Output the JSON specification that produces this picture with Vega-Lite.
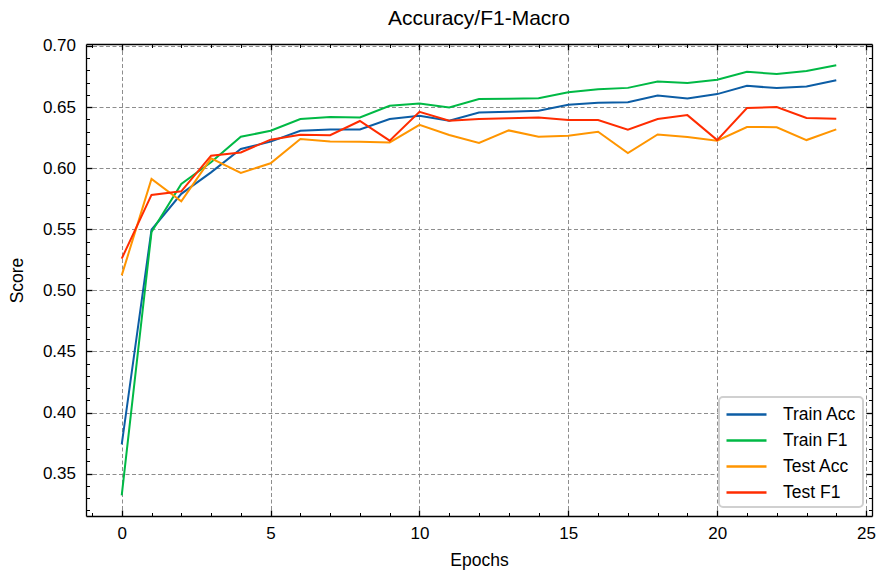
{
  "$schema": "https://vega.github.io/schema/vega-lite/v6.json",
  "autosize": {"type": "none"},
  "width": 786,
  "height": 472,
  "padding": {"left": 86, "top": 44, "right": 7, "bottom": 61},
  "background": "white",
  "title": {
    "text": "Accuracy/F1-Macro",
    "font": "Liberation Sans",
    "fontSize": 21,
    "fontWeight": "normal",
    "color": "#000000",
    "anchor": "middle",
    "baseline": "alphabetic",
    "offset": 16,
    "dy": 25
  },
  "config": {
    "view": {"stroke": null},
    "font": "Liberation Sans",
    "axis": {
      "domainColor": "#000000",
      "domainWidth": 1.3,
      "tickColor": "#000000",
      "labelColor": "#000000",
      "titleColor": "#000000",
      "labelFont": "Liberation Sans",
      "titleFont": "Liberation Sans",
      "labelFontSize": 17,
      "titleFontSize": 17.5,
      "titleFontWeight": "normal",
      "gridColor": "#808080",
      "gridDash": [4, 2.5],
      "gridWidth": 0.9
    },
    "legend": {
      "orient": "bottom-right",
      "offset": 9.5,
      "fillColor": "white",
      "strokeColor": "#d0d0d0",
      "strokeWidth": 2,
      "cornerRadius": 4,
      "padding": 6,
      "labelFont": "Liberation Sans",
      "labelFontSize": 17.5,
      "labelColor": "#000000",
      "labelOffset": 35,
      "rowPadding": 6,
      "symbolType": "M-1,0H3",
      "symbolSize": 400,
      "symbolStrokeWidth": 2.5
    }
  },
  "datasets": {
    "scores": [
      {"epoch": 0, "series": "Train Acc", "score": 0.374},
      {"epoch": 1, "series": "Train Acc", "score": 0.5496},
      {"epoch": 2, "series": "Train Acc", "score": 0.579},
      {"epoch": 3, "series": "Train Acc", "score": 0.5966},
      {"epoch": 4, "series": "Train Acc", "score": 0.6157},
      {"epoch": 5, "series": "Train Acc", "score": 0.6217},
      {"epoch": 6, "series": "Train Acc", "score": 0.6306},
      {"epoch": 7, "series": "Train Acc", "score": 0.6317},
      {"epoch": 8, "series": "Train Acc", "score": 0.6316},
      {"epoch": 9, "series": "Train Acc", "score": 0.6402},
      {"epoch": 10, "series": "Train Acc", "score": 0.6429},
      {"epoch": 11, "series": "Train Acc", "score": 0.6388},
      {"epoch": 12, "series": "Train Acc", "score": 0.6456},
      {"epoch": 13, "series": "Train Acc", "score": 0.6462},
      {"epoch": 14, "series": "Train Acc", "score": 0.647},
      {"epoch": 15, "series": "Train Acc", "score": 0.6519},
      {"epoch": 16, "series": "Train Acc", "score": 0.6535},
      {"epoch": 17, "series": "Train Acc", "score": 0.654},
      {"epoch": 18, "series": "Train Acc", "score": 0.6595},
      {"epoch": 19, "series": "Train Acc", "score": 0.657},
      {"epoch": 20, "series": "Train Acc", "score": 0.6606},
      {"epoch": 21, "series": "Train Acc", "score": 0.6674},
      {"epoch": 22, "series": "Train Acc", "score": 0.6655},
      {"epoch": 23, "series": "Train Acc", "score": 0.6668},
      {"epoch": 24, "series": "Train Acc", "score": 0.672},
      {"epoch": 0, "series": "Train F1", "score": 0.3322},
      {"epoch": 1, "series": "Train F1", "score": 0.5477},
      {"epoch": 2, "series": "Train F1", "score": 0.5871},
      {"epoch": 3, "series": "Train F1", "score": 0.6048},
      {"epoch": 4, "series": "Train F1", "score": 0.6257},
      {"epoch": 5, "series": "Train F1", "score": 0.6306},
      {"epoch": 6, "series": "Train F1", "score": 0.6402},
      {"epoch": 7, "series": "Train F1", "score": 0.6418},
      {"epoch": 8, "series": "Train F1", "score": 0.6415},
      {"epoch": 9, "series": "Train F1", "score": 0.651},
      {"epoch": 10, "series": "Train F1", "score": 0.6529},
      {"epoch": 11, "series": "Train F1", "score": 0.6496},
      {"epoch": 12, "series": "Train F1", "score": 0.6565},
      {"epoch": 13, "series": "Train F1", "score": 0.6568},
      {"epoch": 14, "series": "Train F1", "score": 0.6573},
      {"epoch": 15, "series": "Train F1", "score": 0.6622},
      {"epoch": 16, "series": "Train F1", "score": 0.6646},
      {"epoch": 17, "series": "Train F1", "score": 0.6657},
      {"epoch": 18, "series": "Train F1", "score": 0.6709},
      {"epoch": 19, "series": "Train F1", "score": 0.6696},
      {"epoch": 20, "series": "Train F1", "score": 0.6723},
      {"epoch": 21, "series": "Train F1", "score": 0.6788},
      {"epoch": 22, "series": "Train F1", "score": 0.6771},
      {"epoch": 23, "series": "Train F1", "score": 0.6796},
      {"epoch": 24, "series": "Train F1", "score": 0.6842},
      {"epoch": 0, "series": "Test Acc", "score": 0.5123},
      {"epoch": 1, "series": "Test Acc", "score": 0.5912},
      {"epoch": 2, "series": "Test Acc", "score": 0.5729},
      {"epoch": 3, "series": "Test Acc", "score": 0.608},
      {"epoch": 4, "series": "Test Acc", "score": 0.5961},
      {"epoch": 5, "series": "Test Acc", "score": 0.604},
      {"epoch": 6, "series": "Test Acc", "score": 0.6238},
      {"epoch": 7, "series": "Test Acc", "score": 0.6219},
      {"epoch": 8, "series": "Test Acc", "score": 0.6217},
      {"epoch": 9, "series": "Test Acc", "score": 0.6211},
      {"epoch": 10, "series": "Test Acc", "score": 0.6355},
      {"epoch": 11, "series": "Test Acc", "score": 0.6271},
      {"epoch": 12, "series": "Test Acc", "score": 0.6206},
      {"epoch": 13, "series": "Test Acc", "score": 0.6309},
      {"epoch": 14, "series": "Test Acc", "score": 0.6257},
      {"epoch": 15, "series": "Test Acc", "score": 0.6265},
      {"epoch": 16, "series": "Test Acc", "score": 0.6298},
      {"epoch": 17, "series": "Test Acc", "score": 0.6124},
      {"epoch": 18, "series": "Test Acc", "score": 0.6276},
      {"epoch": 19, "series": "Test Acc", "score": 0.6255},
      {"epoch": 20, "series": "Test Acc", "score": 0.6225},
      {"epoch": 21, "series": "Test Acc", "score": 0.6337},
      {"epoch": 22, "series": "Test Acc", "score": 0.6335},
      {"epoch": 23, "series": "Test Acc", "score": 0.623},
      {"epoch": 24, "series": "Test Acc", "score": 0.6317},
      {"epoch": 0, "series": "Test F1", "score": 0.526},
      {"epoch": 1, "series": "Test F1", "score": 0.5781},
      {"epoch": 2, "series": "Test F1", "score": 0.5811},
      {"epoch": 3, "series": "Test F1", "score": 0.6102},
      {"epoch": 4, "series": "Test F1", "score": 0.6129},
      {"epoch": 5, "series": "Test F1", "score": 0.6233},
      {"epoch": 6, "series": "Test F1", "score": 0.6274},
      {"epoch": 7, "series": "Test F1", "score": 0.627},
      {"epoch": 8, "series": "Test F1", "score": 0.6386},
      {"epoch": 9, "series": "Test F1", "score": 0.6225},
      {"epoch": 10, "series": "Test F1", "score": 0.6461},
      {"epoch": 11, "series": "Test F1", "score": 0.6388},
      {"epoch": 12, "series": "Test F1", "score": 0.6402},
      {"epoch": 13, "series": "Test F1", "score": 0.6408},
      {"epoch": 14, "series": "Test F1", "score": 0.6415},
      {"epoch": 15, "series": "Test F1", "score": 0.6394},
      {"epoch": 16, "series": "Test F1", "score": 0.6394},
      {"epoch": 17, "series": "Test F1", "score": 0.6315},
      {"epoch": 18, "series": "Test F1", "score": 0.6402},
      {"epoch": 19, "series": "Test F1", "score": 0.6434},
      {"epoch": 20, "series": "Test F1", "score": 0.623},
      {"epoch": 21, "series": "Test F1", "score": 0.6492},
      {"epoch": 22, "series": "Test F1", "score": 0.65},
      {"epoch": 23, "series": "Test F1", "score": 0.641},
      {"epoch": 24, "series": "Test F1", "score": 0.6404}
    ]
  },
  "data": {"name": "scores"},
  "resolve": {"axis": {"x": "independent", "y": "independent"}},
  "layer": [
    {
      "mark": {"type": "line", "strokeWidth": 2},
      "encoding": {
        "x": {
          "field": "epoch", "type": "quantitative",
          "scale": {"domain": [-1.2, 25.2], "nice": false, "zero": false},
          "axis": {
            "orient": "bottom", "title": "Epochs", "values": [0, 5, 10, 15, 20, 25],
            "tickSize": -6, "tickWidth": 1.3, "labelPadding": 15.5, "titlePadding": 10,
            "grid": true, "labelFlush": false
          }
        },
        "y": {
          "field": "score", "type": "quantitative",
          "scale": {"domain": [0.3154, 0.7016], "nice": false, "zero": false},
          "axis": {
            "orient": "left", "title": "Score",
            "values": [0.35, 0.4, 0.45, 0.5, 0.55, 0.6, 0.65, 0.7],
            "format": ".2f", "tickSize": -6, "tickWidth": 1.3, "labelPadding": 16.5,
            "titlePadding": 16, "grid": true, "labelFlush": false
          }
        },
        "color": {
          "field": "series", "type": "nominal", "title": null,
          "sort": ["Train Acc", "Train F1", "Test Acc", "Test F1"],
          "scale": {
            "domain": ["Train Acc", "Train F1", "Test Acc", "Test F1"],
            "range": ["#0C5DA5", "#00B945", "#FF9500", "#FF2C00"]
          }
        },
        "order": {"field": "epoch"}
      }
    },
    {
      "mark": {"type": "point", "opacity": 0},
      "encoding": {
        "x": {
          "field": "epoch", "type": "quantitative",
          "scale": {"domain": [-1.2, 25.2], "nice": false, "zero": false},
          "axis": {
            "orient": "bottom", "title": null, "labels": false, "domain": false, "grid": false,
            "values": [-1, 1, 2, 3, 4, 6, 7, 8, 9, 11, 12, 13, 14, 16, 17, 18, 19, 21, 22, 23, 24],
            "tickSize": -3.5, "tickWidth": 1
          }
        },
        "y": {
          "field": "score", "type": "quantitative",
          "scale": {"domain": [0.3154, 0.7016], "nice": false, "zero": false},
          "axis": {
            "orient": "left", "title": null, "labels": false, "domain": false, "grid": false,
            "values": [0.32, 0.33, 0.34, 0.36, 0.37, 0.38, 0.39, 0.41, 0.42, 0.43, 0.44, 0.46, 0.47, 0.48, 0.49, 0.51, 0.52, 0.53, 0.54, 0.56, 0.57, 0.58, 0.59, 0.61, 0.62, 0.63, 0.64, 0.66, 0.67, 0.68, 0.69],
            "tickSize": -3.5, "tickWidth": 1
          }
        }
      }
    },
    {
      "mark": {"type": "point", "opacity": 0},
      "encoding": {
        "x": {
          "field": "epoch", "type": "quantitative",
          "scale": {"domain": [-1.2, 25.2], "nice": false, "zero": false},
          "axis": {
            "orient": "top", "title": null, "labels": false, "grid": false,
            "values": [0, 5, 10, 15, 20, 25], "tickSize": -6, "tickWidth": 1.3
          }
        },
        "y": {
          "field": "score", "type": "quantitative",
          "scale": {"domain": [0.3154, 0.7016], "nice": false, "zero": false},
          "axis": {
            "orient": "right", "title": null, "labels": false, "grid": false,
            "values": [0.35, 0.4, 0.45, 0.5, 0.55, 0.6, 0.65, 0.7], "tickSize": -6, "tickWidth": 1.3
          }
        }
      }
    },
    {
      "mark": {"type": "point", "opacity": 0},
      "encoding": {
        "x": {
          "field": "epoch", "type": "quantitative",
          "scale": {"domain": [-1.2, 25.2], "nice": false, "zero": false},
          "axis": {
            "orient": "top", "title": null, "labels": false, "domain": false, "grid": false,
            "values": [-1, 1, 2, 3, 4, 6, 7, 8, 9, 11, 12, 13, 14, 16, 17, 18, 19, 21, 22, 23, 24],
            "tickSize": -3.5, "tickWidth": 1
          }
        },
        "y": {
          "field": "score", "type": "quantitative",
          "scale": {"domain": [0.3154, 0.7016], "nice": false, "zero": false},
          "axis": {
            "orient": "right", "title": null, "labels": false, "domain": false, "grid": false,
            "values": [0.32, 0.33, 0.34, 0.36, 0.37, 0.38, 0.39, 0.41, 0.42, 0.43, 0.44, 0.46, 0.47, 0.48, 0.49, 0.51, 0.52, 0.53, 0.54, 0.56, 0.57, 0.58, 0.59, 0.61, 0.62, 0.63, 0.64, 0.66, 0.67, 0.68, 0.69],
            "tickSize": -3.5, "tickWidth": 1
          }
        }
      }
    }
  ]
}
